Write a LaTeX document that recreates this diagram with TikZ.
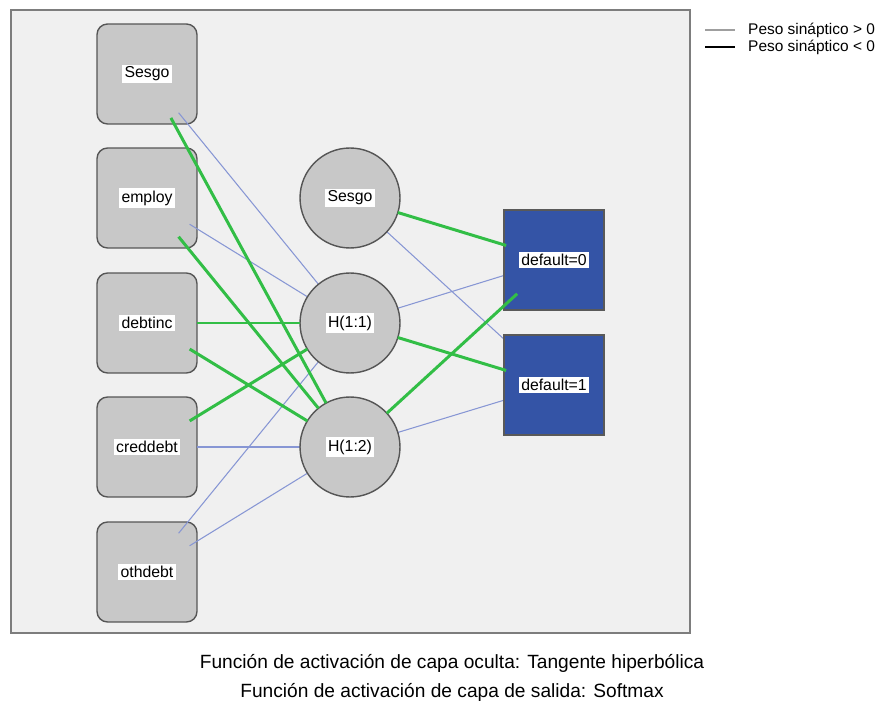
\documentclass[tikz,border=0pt]{standalone}
\usepackage{fontspec}
\setmainfont{Liberation Sans}

\definecolor{panelgray}{RGB}{240,240,240}
\definecolor{framegray}{RGB}{125,125,125}
\definecolor{unitgray}{RGB}{200,200,200}
\definecolor{unitedge}{RGB}{85,85,85}
\definecolor{outblue}{RGB}{52,84,166}
\definecolor{wposcol}{RGB}{135,150,212}
\definecolor{wnegcol}{RGB}{50,190,70}

\pgfdeclarelayer{back}
\pgfdeclarelayer{mid}
\pgfsetlayers{back,mid,main}

\newcommand{\unitlbl}[1]{{\setlength{\fboxsep}{1.3pt}\colorbox{white}{#1}}}

\tikzset{
  inunit/.style={draw=unitedge, fill=unitgray, line width=0.8pt, rounded corners=6pt,
    minimum size=2cm, inner sep=0pt},
  hidunit/.style={circle, draw=unitedge, fill=unitgray, line width=0.8pt,
    minimum size=2cm, inner sep=0pt},
  outunit/.style={draw=black!65, fill=outblue, line width=0.8pt,
    minimum size=2cm, inner sep=0pt},
  wpos/.style={draw=wposcol, line width=0.6pt, shorten <=1cm, shorten >=1cm},
  wneg/.style={draw=wnegcol, line width=1.7pt, shorten <=1cm, shorten >=1cm},
}

\begin{document}
\begin{tikzpicture}[x=0.02cm, y=-0.02cm, font=\fontsize{9}{10}\selectfont, line cap=butt]

  \useasboundingbox (0,0) rectangle (878,712);

  %% ---- panel ----
  \begin{pgfonlayer}{back}
    \draw[framegray, fill=panelgray, line width=1.1pt] (11,10) rectangle (690,633);

    %% ---- input layer ----
    \node[inunit] (iSesgo)   at (147,74)  {\unitlbl{Sesgo}};
    \node[inunit] (iemploy)  at (147,198) {\unitlbl{employ}};
    \node[inunit] (idebtinc) at (147,323) {\unitlbl{debtinc}};
    \node[inunit] (icred)    at (147,447) {\unitlbl{creddebt}};
    \node[inunit] (ioth)     at (147,572) {\unitlbl{othdebt}};
  \end{pgfonlayer}

  %% ---- hidden layer ----
  \node[hidunit] (hSesgo) at (350,198) {\unitlbl{Sesgo}};
  \node[hidunit] (hA)     at (350,323) {\unitlbl{H(1:1)}};
  \node[hidunit] (hB)     at (350,447) {\unitlbl{H(1:2)}};

  %% ---- output layer ----
  \node[outunit] (oA) at (554,260) {\unitlbl{default=0}};
  \node[outunit] (oB) at (554,385) {\unitlbl{default=1}};

  %% ---- weights > 0 (thin, under the output units) ----
  \begin{pgfonlayer}{mid}
    \foreach \a/\b in {iSesgo/hA, iemploy/hA, icred/hB, ioth/hA, ioth/hB,
                       hSesgo/oB, hA/oA, hB/oB}
      \draw[wpos] (\a.center) -- (\b.center);
  \end{pgfonlayer}

  %% ---- weights < 0 (thick) ----
  \foreach \a/\b in {iSesgo/hB, iemploy/hB, idebtinc/hA, idebtinc/hB, icred/hA,
                     hSesgo/oA, hA/oB, hB/oA}
    \draw[wneg] (\a.center) -- (\b.center);

  %% ---- legend ----
  \node[anchor=west, font=\fontsize{8.8}{10}\selectfont] (lgpos) at (742,30) {Peso sináptico > 0};
  \node[anchor=west, font=\fontsize{8.8}{10}\selectfont] (lgneg) at (742,47) {Peso sináptico < 0};
  \draw[gray!75, line width=0.6pt] (705,30) -- (735,30);
  \draw[black, line width=1.7pt] (705,47) -- (735,47);

  %% ---- activation notes ----
  \node[font=\fontsize{10.9}{12}\selectfont] (capA) at (452,663) {Función de activación de capa oculta: Tangente hiperbólica};
  \node[font=\fontsize{10.9}{12}\selectfont] (capB) at (452,692) {Función de activación de capa de salida: Softmax};

\end{tikzpicture}
\end{document}
